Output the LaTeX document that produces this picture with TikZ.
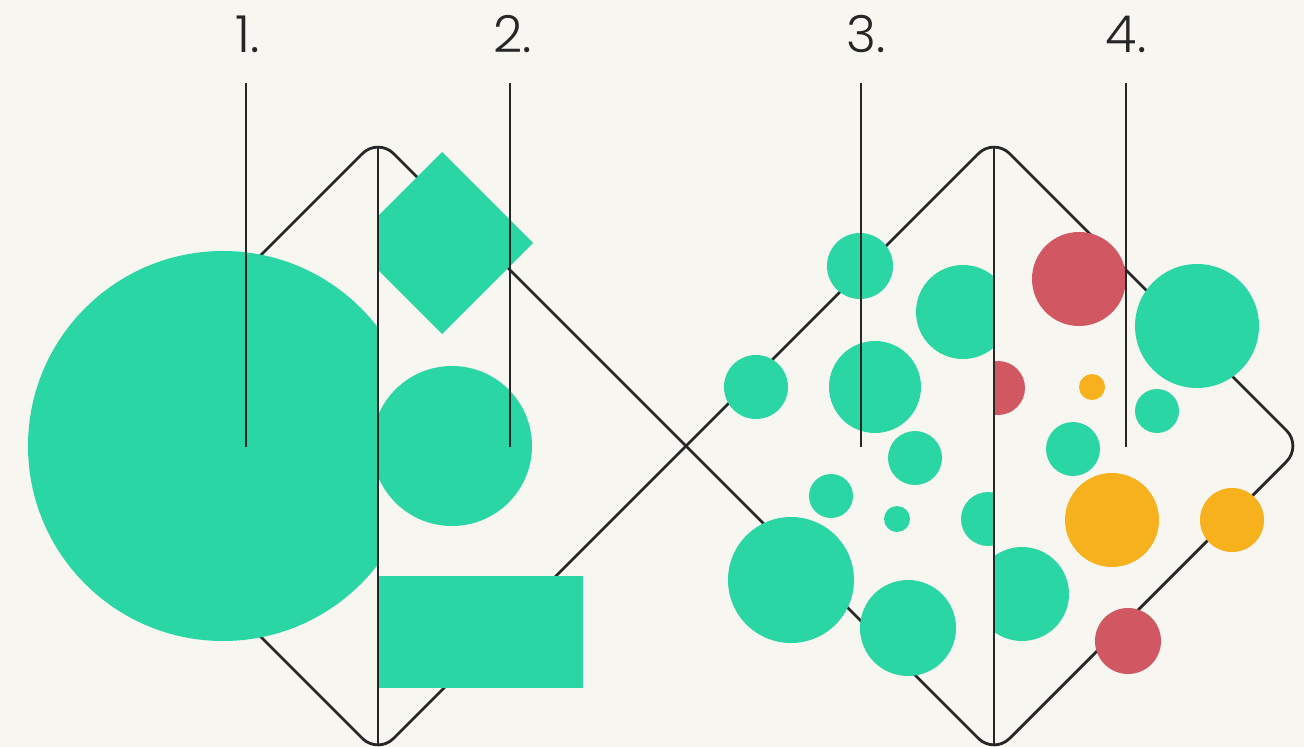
\documentclass[tikz,border=0pt]{standalone}
\usepackage{fontspec}
\setmainfont{Poppins}[UprightFont=* Light]
\definecolor{paper}{HTML}{F7F6F1}
\definecolor{mint}{HTML}{2BD6A5}
\definecolor{coral}{HTML}{D15762}
\definecolor{amber}{HTML}{F7B11C}
\definecolor{ink}{HTML}{262626}
\tikzset{
  outline/.style={ink,line width=2.8pt,rounded corners=22pt,line join=round},
  rule/.style={ink,line width=2.8pt},
  numlabel/.style={anchor=base,text=ink,inner sep=0pt,font=\fontsize{51}{51}\selectfont}
}

\begin{document}
\begin{tikzpicture}[x=1pt,y=-1pt]
\fill[paper] (0,0) rectangle (1304,747);
\useasboundingbox (0,0) rectangle (1304,747);
\draw[outline] (224,292) -- (378,138) -- (994,754) -- (1302,446) -- (994,138) -- (378,754) -- (70,446) -- cycle;
\begin{scope}
  \clip (0,0) rectangle (378,747);
  \fill[mint] (223,446) circle (195);
\end{scope}
\begin{scope}
  \clip (378,0) rectangle (700,747);
  \fill[mint] (442,152) -- (533,243) -- (442,334) -- (351,243) -- cycle;
  \fill[mint] (452,446) circle (80);
  \fill[mint] (378,576) rectangle (583,688);
\end{scope}
\begin{scope}
  \clip (700,0) rectangle (994,747);
  \foreach \x/\y/\r in {860/266/33,963/312/47,756/387/32,875/387/46,915/458/27,831/496/22,897/519/13,988/519/27,791/580/63,908/628/48}
    \fill[mint] (\x,\y) circle (\r);
\end{scope}
\begin{scope}
  \clip (994,0) rectangle (1304,747);
  \foreach \x/\y/\r in {1197/326/62,1157/411/22,1073/449/27,1022/594/47}
    \fill[mint] (\x,\y) circle (\r);
  \foreach \x/\y/\r in {1079/279/47,998/388/27,1128/641/33}
    \fill[coral] (\x,\y) circle (\r);
  \foreach \x/\y/\r in {1092/387/13,1112/520/47,1232/520/32}
    \fill[amber] (\x,\y) circle (\r);
\end{scope}
\coordinate (apexL) at (378,147); \coordinate (footL) at (378,745);
\coordinate (apexR) at (994,147); \coordinate (footR) at (994,745);
\draw[rule] (apexL) -- (footL);
\draw[rule] (apexR) -- (footR);
\foreach \n/\x/\tx in {1/246/248,2/510/513,3/861/866,4/1126/1126}{
  \node[numlabel] (num\n) at (\tx,52) {\n.};
  \coordinate (top\n) at (\x,83);
  \coordinate (end\n) at (\x,447);
  \draw[rule] (top\n) -- (end\n);
}
\end{tikzpicture}
\end{document}
